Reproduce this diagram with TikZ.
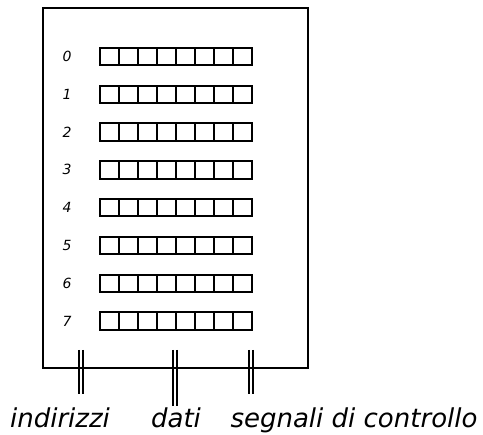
\documentclass[tikz,border=0pt]{standalone}
\usepackage{fontspec}
\setmainfont{DejaVu Sans}
\usetikzlibrary{positioning,calc}

\begin{document}
\begin{tikzpicture}[
    x=1pt, y=1pt,
    every node/.style={font=\itshape},
    memory/.style={
        draw,
        line width=2pt,
        minimum width=265pt,
        minimum height=360pt,
        inner sep=0pt
    },
    cell/.style={draw, line width=2pt, minimum width=19pt, minimum height=17.5pt, inner sep=0pt},
    regnum/.style={font=\itshape\fontsize{14}{16}\selectfont},
    buslabel/.style={font=\itshape\fontsize{26}{30}\selectfont, anchor=base},
    bus/.style={line width=1.8pt}
]
\useasboundingbox (0,0) rectangle (483,435);

% bus ends under the memory
\coordinate (addr-top) at (81,85);
\coordinate (addr-bot) at (81,41);
\coordinate (data-top) at (175,85);
\coordinate (data-bot) at (175,29);
\coordinate (ctrl-top) at (251,85);
\coordinate (ctrl-bot) at (251,41);

\foreach \b in {addr,data,ctrl}
    \foreach \s in {-2,2}
        \draw[bus] ([xshift=\s pt]\b-top) -- ([xshift=\s pt]\b-bot);

% memory block
\node[memory] (mem) at (175.5,247) {};

% eight registers of eight bits
\foreach \i in {0,...,7} {
    \pgfmathsetmacro{\ry}{435-56.5-37.8*\i}
    \node[regnum] (num\i) at (67,\ry) {\i};
    \foreach \j in {0,...,7}
        \node[cell] (r\i-\j) at (109+19*\j,\ry) {};
}

% bus names
\node[buslabel] (addr) at (60,7) {indirizzi};
\node[buslabel] (data) at (176,7) {dati};
\node[buslabel] (ctrl) at (354,7) {segnali di controllo};
\end{tikzpicture}
\end{document}
